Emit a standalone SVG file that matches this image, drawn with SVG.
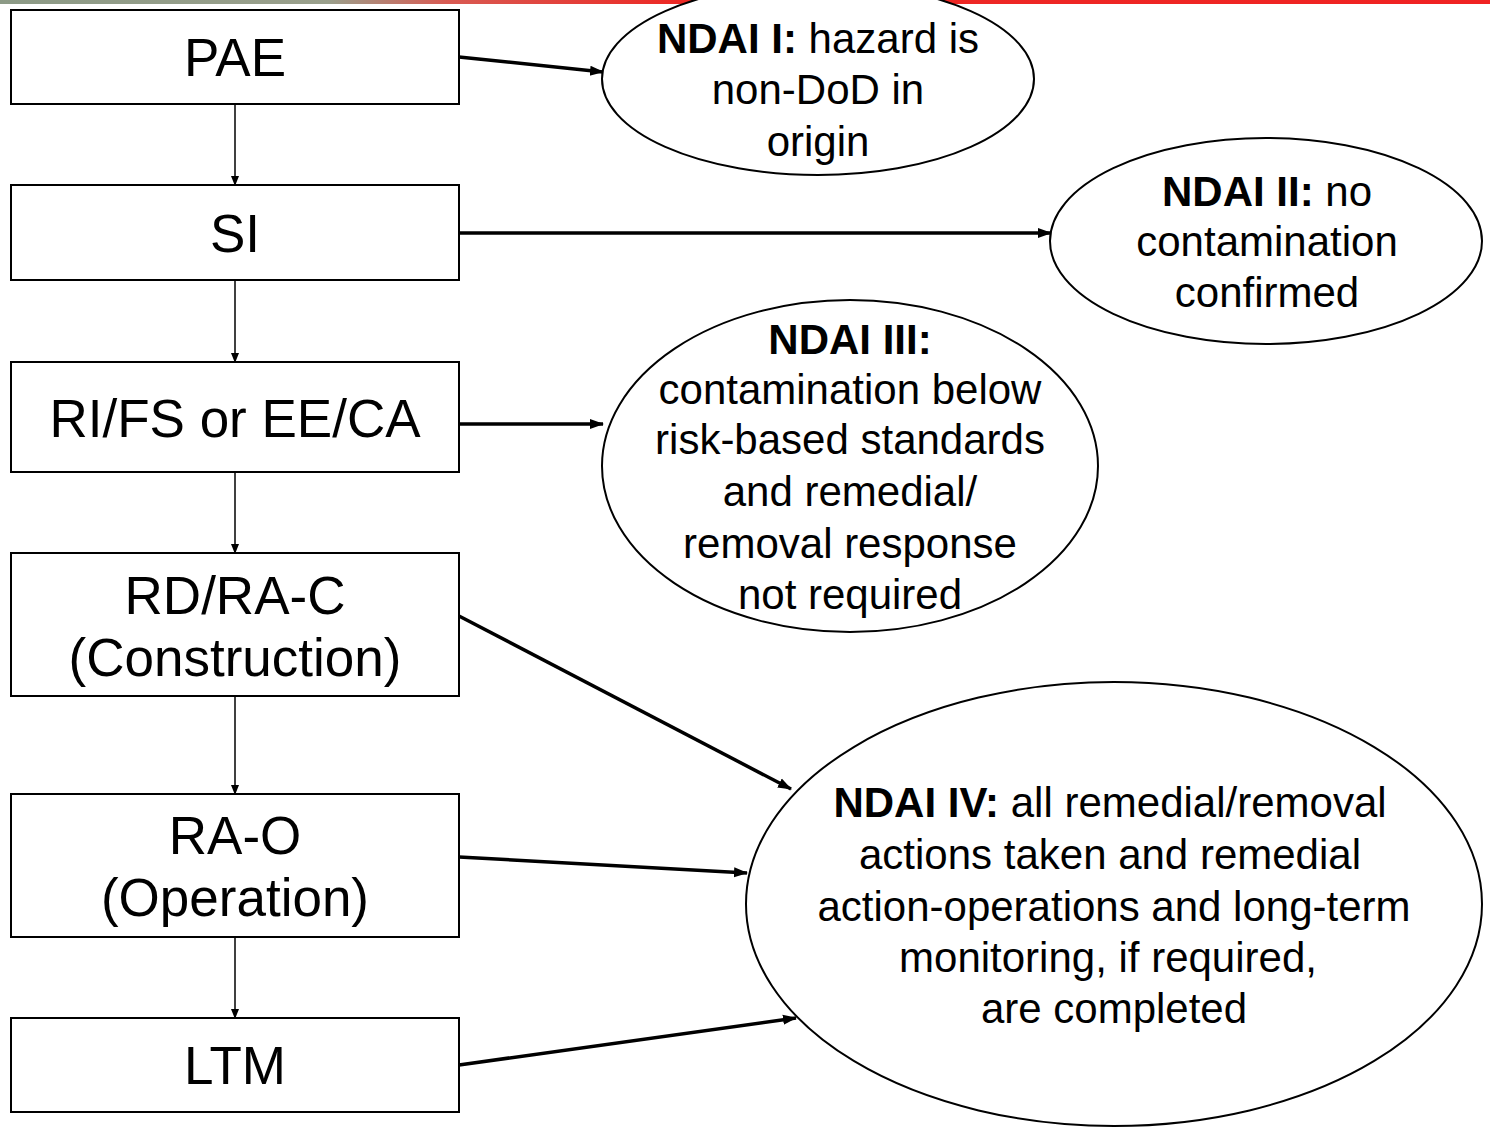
<svg xmlns="http://www.w3.org/2000/svg" width="1490" height="1127" viewBox="0 0 1490 1127">
<style>
.box{fill:#fff;stroke:#000;stroke-width:2}
.ell{fill:#fff;stroke:#000;stroke-width:2}
.bt{font-family:"Liberation Sans",Arial,sans-serif;font-size:53px;text-anchor:middle;fill:#000}
.et{font-family:"Liberation Sans",Arial,sans-serif;font-size:42px;text-anchor:middle;fill:#000}
.b{font-weight:bold}
.thin{stroke:#000;stroke-width:1.5;fill:none;marker-end:url(#ah)}
.thick{stroke:#000;stroke-width:3.5;fill:none;marker-end:url(#ah2)}
</style>
<defs>
<linearGradient id="band" x1="0" y1="0" x2="1" y2="0">
<stop offset="0" stop-color="#8c9a86"/>
<stop offset="0.22" stop-color="#9aa08c"/>
<stop offset="0.3" stop-color="#d85a52"/>
<stop offset="0.45" stop-color="#ec2a26"/>
<stop offset="1" stop-color="#f02222"/>
</linearGradient>
<marker id="ah" markerWidth="10" markerHeight="10" refX="9" refY="5" orient="auto" markerUnits="userSpaceOnUse">
<path d="M0,1 L10,5 L0,9 Z" fill="#000"/>
</marker>
<marker id="ah2" markerWidth="14" markerHeight="12" refX="13" refY="6" orient="auto" markerUnits="userSpaceOnUse">
<path d="M0,1 L14,6 L0,11 Z" fill="#000"/>
</marker>
</defs>
<rect x="0" y="0" width="1490" height="4" fill="url(#band)"/>
<g id="connectors">
<line class="thin" x1="235" y1="104" x2="235" y2="185"/>
<line class="thin" x1="235" y1="280" x2="235" y2="362"/>
<line class="thin" x1="235" y1="472" x2="235" y2="553"/>
<line class="thin" x1="235" y1="696" x2="235" y2="794"/>
<line class="thin" x1="235" y1="937" x2="235" y2="1018"/>
<line class="thick" x1="459" y1="57" x2="603" y2="72"/>
<line class="thick" x1="459" y1="233" x2="1051" y2="233"/>
<line class="thick" x1="459" y1="424" x2="603" y2="424"/>
<line class="thick" x1="459" y1="616" x2="791" y2="789"/>
<line class="thick" x1="459" y1="857" x2="747" y2="873"/>
<line class="thick" x1="459" y1="1065" x2="796" y2="1018"/>
</g>
<g id="ndai1">
<ellipse class="ell" cx="818" cy="79" rx="216" ry="96"/>
<text class="et" x="818" y="53"><tspan class="b">NDAI I:</tspan> hazard is</text>
<text class="et" x="818" y="104">non-DoD in</text>
<text class="et" x="818" y="156">origin</text>
</g>
<g id="ndai2">
<ellipse class="ell" cx="1266" cy="241" rx="216" ry="103"/>
<text class="et" x="1267" y="206"><tspan class="b">NDAI II:</tspan> no</text>
<text class="et" x="1267" y="256">contamination</text>
<text class="et" x="1267" y="307">confirmed</text>
</g>
<g id="ndai3">
<ellipse class="ell" cx="850" cy="466" rx="248" ry="166"/>
<text class="et b" x="850" y="354">NDAI III:</text>
<text class="et" x="850" y="404">contamination below</text>
<text class="et" x="850" y="454">risk-based standards</text>
<text class="et" x="850" y="506">and remedial/</text>
<text class="et" x="850" y="558">removal response</text>
<text class="et" x="850" y="609">not required</text>
</g>
<g id="ndai4">
<ellipse class="ell" cx="1114" cy="904" rx="368" ry="222"/>
<text class="et" x="1110" y="817"><tspan class="b">NDAI IV:</tspan> all remedial/removal</text>
<text class="et" x="1110" y="869">actions taken and remedial</text>
<text class="et" x="1114" y="921">action-operations and long-term</text>
<text class="et" x="1108" y="972">monitoring, if required,</text>
<text class="et" x="1114" y="1023">are completed</text>
</g>
<g id="pae">
<rect class="box" x="11" y="10" width="448" height="94"/>
<text class="bt" x="235" y="76">PAE</text>
</g>
<g id="si">
<rect class="box" x="11" y="185" width="448" height="95"/>
<text class="bt" x="235" y="252">SI</text>
</g>
<g id="rifs">
<rect class="box" x="11" y="362" width="448" height="110"/>
<text class="bt" x="235" y="437">RI/FS or EE/CA</text>
</g>
<g id="rdrac">
<rect class="box" x="11" y="553" width="448" height="143"/>
<text class="bt" x="235" y="614">RD/RA-C</text>
<text class="bt" x="235" y="676">(Construction)</text>
</g>
<g id="rao">
<rect class="box" x="11" y="794" width="448" height="143"/>
<text class="bt" x="235" y="854">RA-O</text>
<text class="bt" x="235" y="916">(Operation)</text>
</g>
<g id="ltm">
<rect class="box" x="11" y="1018" width="448" height="94"/>
<text class="bt" x="235" y="1084">LTM</text>
</g>
</svg>
